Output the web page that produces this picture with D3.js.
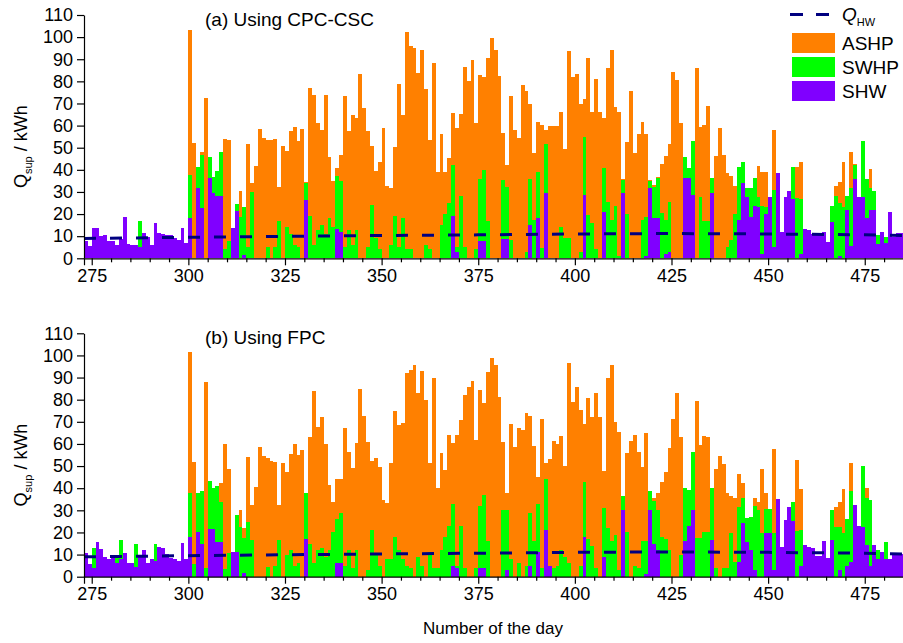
<!DOCTYPE html>
<html>
<head>
<meta charset="utf-8">
<script src="https://cdn.jsdelivr.net/npm/d3@7"></script>
<style>
  html, body { margin: 0; padding: 0; background: #fff; }
  svg { display: block; font-family: "Liberation Sans", Arial, sans-serif; }
</style>
</head>
<body>
<svg id="chart" width="903" height="643"></svg>
<script>
// ---- data -------------------------------------------------------------
const firstDay = 273;
const lastDay = 484;
const days = d3.range(firstDay, lastDay + 1);

const seriesNames = ["SHW", "SWHP", "ASHP"];
const seriesColors = ["#8000ff", "#00ff00", "#ff8000"];

// (a) CPC-CSC collectors: daily supplied heat per source, kWh
const shwA = [
  8,5.7,13.5,13.6,10,10.4,8,8,6,8.6,18.8,6.3,6,5.9,5.3,11.6,9.5,5.9,16.1,11.6,10.8,10.4,10.4,9.3,8.3,13.9,6.8,
  18,0,31.6,22.9,0,36.4,29.7,28.2,28.2,0,0,13.9,21.4,0,1.5,0,0,0,0,0,0,0,0,0,0,0,0,0,0,0,
  26.4,0,0,0,0,0,0,0,13.3,11.7,0,0,0,0,0,0,0,0,0,0,0,0,0,0,0,0,0,0,0,0,0,0,0,0,0,0,0,0,19,3,0,0,0,0,0,8,8,0,0,0,0,
  8.7,8.7,0,0,0,0,0,15.1,0,18,0,29.4,0,0,0,0,0,0,0,0,0,28.6,0,0,0,0,21.1,0,0,0,0,29.4,0,0,0,0,0,1,31.9,18,18,0,2,3,0,0,0,
  36.4,36.4,28.6,0,0,0,0,29.7,0,0,0,0,
  0,0,17.3,33.9,27.6,18.8,23.5,23,2,20,27.6,5.3,38.4,12,27.6,30.4,27,0,2,13.4,12.8,11,10.5,10.5,12,7.4,16.3,0,1,0,21.9,5.6,35.7,27.9,27.6,18.1,22,22,6.5,12,6.8,21.1,9.8,11.3,11.3
];
const swhpA = [
  0,0,0,0,0,0,0,0,0,0,0,0,0,0,11.6,0,0,0,0,0,0,0,0,0,0,0,0,
  19.6,0,9.8,23.8,0,9.5,7.2,11.4,20,4,8,0,3,18.8,21.5,5,30,0,0,0,5.3,0,5,17,0,14,11,6,5,0,
  7.5,19,6,13,15,11,18,14,23.9,23.3,5,13,6,13,0,0,5,24,9,4,0,0,6,19,5,18,4,4,0,0,0,6,4,0,0,15,20,25,23,2,28,5,0,0,4,28,32,17,0,0,0,
  26.7,23.7,8.3,0,0,0,3,20.6,17.3,21.2,4.5,22.3,0,0,0,14,9,9,0,0,3,26.4,19.6,16.1,4,0,19.9,25.3,17.3,23.6,1,6,20,0,0,0,17.3,17.8,3.2,14.4,18.1,20.3,15.3,22.6,0,0,0,
  9.2,4.6,24.4,0,27.9,17,17,6.7,0,0,0,5,
  8.3,19.9,23.8,9.8,4,13.2,12.7,4.6,21.5,3,0,25.6,0,0,0,0,14.1,27.1,25,0,0,0,0,0,0,0,7.4,28.2,24.2,23.1,6.3,26.3,6.5,0,25.6,17.6,9.6,8.6,4,0,3,0,0,0,0
];
const ashpA = [
  0,0,0,0,0,0,0,0,0,0,0,0,0,0,0,0,0,0,0,0,0,0,0,0,0,0,0,
  65.4,52,0,1.5,72.3,0,0,0,0,49.8,45.5,0,0,11.6,0,46.5,4,41.7,58.3,54.2,48.2,53.5,48.8,15.4,50.9,34.5,46.5,53.5,48,58.4,
  0.6,57.8,67.8,48,43,62.8,27.9,21,3.8,11.7,68.5,44.7,58.8,50.3,83.3,68.1,52.5,26.9,30.6,39.7,58.7,32.8,25.6,31.5,73.6,46.8,98.3,91.8,95.2,83.6,94.3,70.4,49.5,88.1,39.2,41.2,19.2,20.2,23.5,53.7,37.2,81.6,80.1,89.6,57,46.8,42.1,73.4,99.8,94.4,82.4,
  21.4,9.8,65.2,58,54.5,78.2,72.8,34,30.1,22.2,55.7,6.3,59.6,59.6,59.6,52.3,40.4,84.9,82.1,83.3,66.7,17,70.8,49.9,77.2,66,22.3,60.9,77,44.7,65.3,0.6,32.7,75.6,47.4,56,44.1,37.2,0.3,0.7,0.5,22.2,29.1,26.1,84.3,80.6,61.3,
  0,0,0,86,31.6,43.2,51.8,0,46.2,58.7,46.7,33.4,
  29.1,12.8,0,0,0,0,0,14.1,15.7,16.2,0,27.1,0,0,0,0,0,14,16.4,0,0,0,0,0,0,0,0,4.5,9.5,20.3,0,16,0.3,0,0,0,8.8,0,0,0,0,0,0,0,0
];

// (b) FPC collectors: daily supplied heat per source, kWh
const shwB = [
  10.5,5.6,4,15.5,12.3,9,8.1,10,6,8,10.5,6.3,6.3,4.5,9.8,12,6.3,7.8,7,13.6,12.8,10.2,8.6,7.8,7.2,15.4,7.8,
  17.8,0,20,15,0,21.5,21.5,15.8,15.8,0,0,11,11,0,1.5,0,0,0,0,0,0,0,0,0,0,0,0,0,0,0,
  17,0,0,0,0,0,0,0,6,6,0,0,0,0,0,0,0,0,0,0,0,0,0,0,0,0,0,0,0,0,0,0,0,0,0,0,0,0,5,4,0,0,0,0,0,4,4,0,0,0,0,
  0,3,0,0,0,0,0,5,0,11,0,21,5,0,0,0,0,0,0,0,0,18,0,0,0,0,9,0,0,0,0,30,0,0,0,0,0,1,30,15,12,0,0,0,0,0,0,
  16,23,30.1,0,0,0,0,16.6,0,0,0,0,
  0,0,6.8,24.4,15.8,12,3,0,0,19.6,19.6,3,35.1,13.3,25.6,31.6,25,0,5,14.3,13.6,12.8,9.4,9.4,16,8.6,16.6,0,3,0,5,6.8,32.4,22.9,22.6,14.3,5,14.3,8,11.3,7.8,7.8,9.8,10.2,10.2
];
const swhpB = [
  0,0,9.1,0,0,0,0,0,3,8.6,0,0,0,10.1,0,0,0,0,7.6,0,0,0,0,0,0,0,0,
  19.9,5.7,17.7,23.9,4,21.7,18.4,25.3,18.1,3.3,10.5,0,16.9,22.6,15.8,24.8,16.6,0,0,0,4.5,0,5,16.6,0,10,12,5,6,0,
  20.7,15,6,12,13,9,12,20,20,23,5,12,4,12,0,0,3,21,10,5,0,8,8,18,12,8,5,4,0,9,5,0,11,4,4,12,18,23,28,1,23,4,0,0,4,28,33,16,0,0,0,
  30,27,8,0,6,0,5,24,16,22,4,23,0,4,5,12,9,6,0,0,5,25,17,14,4,0,22,22,16,19,3,6.4,20,0,5,4,16,15,8.7,19,18,18,17,12,0,0,10,
  23.9,16,26.4,17.3,17.3,20.3,20.3,23.3,4,0,4,4,
  19.6,6.8,24.5,11,10.6,14.8,29,30,19.6,10.8,10.8,16.6,0,0,0,0,8.6,20.7,16,0,0,0,0,0,0,0,13.5,22.6,19.6,19.9,20.9,31.9,0,0,27.4,21.1,29.7,0,4,0,8,0,0,0,0
];
const ashpB = [
  0,0,0,0,0,0,0,0,0,0,0,0,0,0,0,0,0,0,0,0,0,0,0,0,0,0,0,
  63.7,46.3,0,0,84.1,0,0,0,8.6,56.5,38,0,0,7.5,4.7,29.4,15.8,40.7,58.4,54.5,49.3,52.3,47,15.8,51.2,37.4,43.3,54.8,49,57.2,
  0,48.3,77.9,55.8,59.3,51,29.4,13.9,18,15.1,62.3,44.5,44.9,48.2,84.8,72.6,58,31.3,43.5,44.7,34.6,25.1,43.2,56.8,56.5,61.3,86.9,89.4,95.6,73.8,87.9,79.8,40.2,85.6,35.9,44,30.2,41,27.2,59,47.8,78.1,85.8,88.4,57.7,52.3,41.3,76.6,98.9,95.6,81.3,
  30.7,7.7,60.8,58.4,61,66.3,68.8,43.6,43,12.2,67.2,7.5,48,57.4,55,51.7,41,90.7,79.1,85.8,70.3,25.8,63.9,58.3,79.1,72.3,16.7,67.6,79.6,51,62.5,0,35.7,61.4,59,52.5,33.7,48.8,0,1.4,7.7,24.9,30.4,46,71.2,83.1,53.3,
  0,0,0,62.1,42.2,43.4,43,0,44.5,54.5,46.9,33.7,
  16.9,28.6,15.1,6.8,0,0,3.4,3.9,28.9,7.5,0,37.9,0,0,0,0,0,32,18.5,0,0,0,0,0,0,0,0,8.7,11.3,19.7,0,12.8,0,0,0,4.5,0,0,0,0,0,0,0,0,0
];

// domestic hot-water demand Q_HW, kWh (dashed reference line)
const qhwDays   = [273, 285, 300, 325, 350, 375, 400, 425, 450, 475, 485];
const qhwValues = [9.0, 9.2, 9.5, 9.9, 10.3, 10.6, 11.0, 11.2, 11.0, 10.6, 10.3];

const yTicks = d3.range(0, 111, 10);
const xMajorTicks = [275, 300, 325, 350, 375, 400, 425, 450, 475];
const xMinorTicks = d3.range(275, 486, 5);

const panels = [
  { title: "(a) Using CPC-CSC", shw: shwA, swhp: swhpA, ashp: ashpA, top: 15, bottom: 258.3, legend: true },
  { title: "(b) Using FPC",     shw: shwB, swhp: swhpB, ashp: ashpB, top: 333.3, bottom: 576.7, legend: false }
];

// ---- drawing ----------------------------------------------------------
const svg = d3.select("#chart");
const left = 84, right = 903.4;
const x = d3.scaleLinear().domain([firstDay, lastDay + 1]).range([left, right]);
const fontSize = 18;
const px = d => Math.round(x(d));   // snap bar edges so neighbouring bars tile without seams

panels.forEach(p => {
  const y = d3.scaleLinear().domain([0, 110]).range([p.bottom, p.top]);
  const g = svg.append("g");

  const rows = days.map((d, i) => ({ day: d, SHW: p.shw[i], SWHP: p.swhp[i], ASHP: p.ashp[i] }));
  const stacked = d3.stack().keys(seriesNames)(rows);

  stacked.forEach((layer, k) => {
    g.append("g")
      .attr("fill", seriesColors[k])
      .attr("shape-rendering", "crispEdges")
      .selectAll("rect")
      .data(layer.filter(s => s[1] - s[0] > 0))
      .join("rect")
      .attr("x", s => px(s.data.day))
      .attr("width", s => px(s.data.day + 1) - px(s.data.day))
      .attr("y", s => y(s[1]))
      .attr("height", s => y(s[0]) - y(s[1]));
  });

  // Q_HW dashed line
  const line = d3.line().x(d => x(d)).y((d, i) => y(qhwValues[i]));
  g.append("path")
    .attr("d", line(qhwDays))
    .attr("fill", "none")
    .attr("stroke", "#000080")
    .attr("stroke-width", 3)
    .attr("stroke-dasharray", "12,14");

  // left axis
  const yAxis = g.append("g")
    .attr("transform", `translate(${left},0)`)
    .call(d3.axisLeft(y).tickValues(yTicks).tickSize(7).tickSizeOuter(0).tickPadding(4));
  yAxis.select(".domain").attr("stroke", "#000").attr("stroke-width", 1.2);
  yAxis.selectAll(".tick line").attr("stroke", "#000").attr("stroke-width", 1.2);
  yAxis.selectAll("text").attr("font-size", fontSize).attr("fill", "#000")
    .attr("font-family", "Liberation Sans, Arial, sans-serif");

  // bottom axis: labelled majors every 25 days, minors every 5
  const xAxis = g.append("g")
    .attr("transform", `translate(0,${p.bottom})`)
    .call(d3.axisBottom(x).tickValues(xMinorTicks).tickSizeOuter(0).tickSize(7).tickPadding(4)
      .tickFormat(d => xMajorTicks.includes(d) ? d : ""));
  xAxis.select(".domain").attr("stroke", "#000").attr("stroke-width", 1.2);
  xAxis.selectAll(".tick line").attr("stroke", "#000").attr("stroke-width", 1.2)
    .attr("y2", d => xMajorTicks.includes(d) ? 7 : 4);
  xAxis.selectAll("text").attr("font-size", fontSize).attr("fill", "#000")
    .attr("font-family", "Liberation Sans, Arial, sans-serif");

  // panel title
  g.append("text")
    .attr("x", 205).attr("y", p.top + 11)
    .attr("font-size", 19).attr("fill", "#000")
    .text(p.title);

  // y axis title: Q_sup / kWh
  const cy = (p.top + p.bottom) / 2 + 10;
  const yt = g.append("text")
    .attr("transform", `translate(27,${cy}) rotate(-90)`)
    .attr("text-anchor", "middle")
    .attr("font-size", 18).attr("fill", "#000");
  yt.append("tspan").text("Q");
  yt.append("tspan").attr("font-size", 11).attr("dy", 5).text("sup");
  yt.append("tspan").attr("dy", -5).text(" / kWh");

  if (p.legend) {
    const lg = g.append("g");
    lg.append("line")
      .attr("x1", 790).attr("x2", 829).attr("y1", 14.5).attr("y2", 14.5)
      .attr("stroke", "#000080").attr("stroke-width", 3).attr("stroke-dasharray", "13,13");
    const qt = lg.append("text").attr("x", 842).attr("y", 21).attr("font-size", 19).attr("fill", "#000");
    qt.append("tspan").attr("font-style", "italic").text("Q");
    qt.append("tspan").attr("font-size", 11).attr("dy", 5).text("HW");

    const entries = ["ASHP", "SWHP", "SHW"];
    const colorOf = { SHW: seriesColors[0], SWHP: seriesColors[1], ASHP: seriesColors[2] };
    entries.forEach((name, i) => {
      const top = 33 + i * 24;
      lg.append("rect").attr("x", 792).attr("y", top).attr("width", 43).attr("height", 20)
        .attr("fill", colorOf[name]);
      lg.append("text").attr("x", 842).attr("y", top + 17).attr("font-size", 19).attr("fill", "#000")
        .text(name);
    });
  }
});

// shared x axis title
svg.append("text")
  .attr("x", 493).attr("y", 634)
  .attr("text-anchor", "middle")
  .attr("font-size", 17).attr("fill", "#000")
  .text("Number of the day");
</script>
</body>
</html>
